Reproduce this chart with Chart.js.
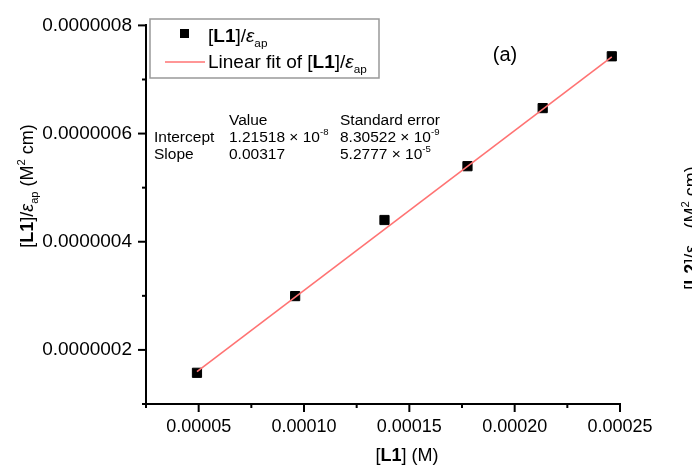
<!DOCTYPE html>
<html>
<head>
<meta charset="utf-8">
<script src="https://cdn.jsdelivr.net/npm/chart.js@4.4.0/dist/chart.umd.min.js"></script>
<style>
  html, body { margin: 0; padding: 0; background: #fff; }
  canvas { display: block; }
</style>
</head>
<body>
<canvas id="fitChart" width="692" height="466"></canvas>
<script>
// [L1] concentration (M) and [L1]/eps_ap (M^2 cm)
var concL1 = [4.92e-5, 9.58e-5, 1.382e-4, 1.776e-4, 2.133e-4, 2.461e-4];
var ratioL1 = [1.577e-7, 2.995e-7, 4.402e-7, 5.397e-7, 6.471e-7, 7.429e-7];

// linear fit, drawn between first and last point
var fitX = [4.92e-5, 2.461e-4];
var fitY = [1.60e-7, 7.42e-7];

// axis ticks (minor ticks get an empty label)
var xTickVals = [2.5e-5, 5e-5, 7.5e-5, 1e-4, 1.25e-4, 1.5e-4, 1.75e-4, 2e-4, 2.25e-4, 2.5e-4];
var xTickLabels = ['', '0.00005', '', '0.00010', '', '0.00015', '', '0.00020', '', '0.00025'];
var yTickVals = [1e-7, 2e-7, 3e-7, 4e-7, 5e-7, 6e-7, 7e-7, 8e-7];
var yTickLabels = ['', '0.0000002', '', '0.0000004', '', '0.0000006', '', '0.0000008'];

// fit results table
var fitRows = ['Intercept', 'Slope'];
var fitValues = [['1.21518 × 10', '-8'], ['0.00317', '']];
var fitErrors = [['8.30522 × 10', '-9'], ['5.2777 × 10', '-5']];

var FONT = '"Liberation Sans", Arial, Helvetica, sans-serif';
var fitColor = '#ff7373';

function partFont(st, size) {
  var sz = (st.indexOf('_') >= 0 || st.indexOf('^') >= 0) ? size * 0.62 : size;
  return (st.indexOf('i') >= 0 ? 'italic ' : '') + (st.indexOf('b') >= 0 ? 'bold ' : '') + sz + 'px ' + FONT;
}
function richWidth(ctx, parts, size) {
  var w = 0;
  parts.forEach(function (p) { ctx.font = partFont(p[1], size); w += ctx.measureText(p[0]).width; });
  return w;
}
function drawRich(ctx, parts, x, y, size) {
  ctx.textAlign = 'left';
  ctx.textBaseline = 'alphabetic';
  parts.forEach(function (p) {
    var dy = 0;
    if (p[1].indexOf('_') >= 0) dy = size * 0.28;
    if (p[1].indexOf('^') >= 0) dy = -size * 0.45;
    ctx.font = partFont(p[1], size);
    ctx.fillText(p[0], x, y + dy);
    x += ctx.measureText(p[0]).width;
  });
}

var yTitle = [['[', ''], ['L1', 'b'], [']/', ''], ['ε', 'i'], ['ap', '_'], [' (M', ''], ['2', '^'], [' cm)', '']];
var y2Title = [['[', ''], ['L2', 'b'], [']/', ''], ['ε', 'i'], ['ap', '_'], [' (M', ''], ['2', '^'], [' cm)', '']];
var xTitle = [['[', ''], ['L1', 'b'], ['] (M)', '']];
var legPoint = [['[', ''], ['L1', 'b'], [']/', ''], ['ε', 'i'], ['ap', '_']];
var legFit = [['Linear fit of [', ''], ['L1', 'b'], [']/', ''], ['ε', 'i'], ['ap', '_']];

var decorations = {
  id: 'decorations',
  afterDraw: function (chart) {
    var ctx = chart.ctx;
    var xs = chart.scales.x, ys = chart.scales.y;
    var area = chart.chartArea;
    ctx.save();
    ctx.fillStyle = '#000';
    ctx.strokeStyle = '#000';
    ctx.lineWidth = 2;

    // tick marks, outward
    xs.ticks.forEach(function (t, i) {
      var px = xs.getPixelForValue(t.value);
      var len = xTickLabels[i] ? 8 : 4;
      ctx.beginPath(); ctx.moveTo(px, area.bottom); ctx.lineTo(px, area.bottom + len); ctx.stroke();
    });
    ys.ticks.forEach(function (t, i) {
      var py = ys.getPixelForValue(t.value);
      var len = yTickLabels[i] ? 8 : 4;
      ctx.beginPath(); ctx.moveTo(area.left, py); ctx.lineTo(area.left - len, py); ctx.stroke();
    });

    // axis titles
    var w = richWidth(ctx, xTitle, 18);
    drawRich(ctx, xTitle, 407 - w / 2, 461, 18);

    ctx.save();
    ctx.translate(33, 186);
    ctx.rotate(-Math.PI / 2);
    w = richWidth(ctx, yTitle, 18);
    drawRich(ctx, yTitle, -w / 2, 0, 18);
    ctx.restore();

    // title of the neighbouring panel, cut by the edge
    ctx.save();
    ctx.translate(697, 228);
    ctx.rotate(-Math.PI / 2);
    w = richWidth(ctx, y2Title, 18);
    drawRich(ctx, y2Title, -w / 2, 0, 18);
    ctx.restore();

    // panel letter
    ctx.font = '20px ' + FONT;
    ctx.textAlign = 'center';
    ctx.fillText('(a)', 505, 61);

    // fit table
    var sz = 15.5;
    drawRich(ctx, [['Value', '']], 229, 125, sz);
    drawRich(ctx, [['Standard error', '']], 340, 125, sz);
    fitRows.forEach(function (r, i) {
      var y = 142 + i * 17;
      drawRich(ctx, [[r, '']], 154, y, sz);
      drawRich(ctx, [[fitValues[i][0], ''], [fitValues[i][1], '^']], 229, y, sz);
      drawRich(ctx, [[fitErrors[i][0], ''], [fitErrors[i][1], '^']], 340, y, sz);
    });

    // legend box
    ctx.fillStyle = '#fff';
    ctx.fillRect(150, 19, 229, 59);
    ctx.strokeStyle = '#999';
    ctx.lineWidth = 1.5;
    ctx.strokeRect(150, 19, 229, 59);
    ctx.fillStyle = '#000';
    ctx.fillRect(180, 29, 9, 9);
    ctx.strokeStyle = fitColor;
    ctx.lineWidth = 1.5;
    ctx.beginPath(); ctx.moveTo(165, 62); ctx.lineTo(205, 62); ctx.stroke();
    ctx.fillStyle = '#000';
    drawRich(ctx, legPoint, 208, 42, 19);
    drawRich(ctx, legFit, 208, 68, 19);

    ctx.restore();
  }
};

var ctx = document.getElementById('fitChart').getContext('2d');
var chart = new Chart(ctx, {
  type: 'scatter',
  data: {
    datasets: [{
      label: 'Linear fit',
      data: fitX.map(function (x, i) { return { x: x, y: fitY[i] }; }),
      showLine: true,
      borderColor: fitColor,
      borderWidth: 1.6,
      pointRadius: 0,
      fill: false
    }, {
      label: '[L1]/eps_ap',
      data: concL1.map(function (x, i) { return { x: x, y: ratioL1[i] }; }),
      pointStyle: 'rect',
      pointRadius: 6.5,
      backgroundColor: '#000',
      borderColor: '#000',
      borderWidth: 1
    }]
  },
  options: {
    responsive: false,
    devicePixelRatio: 1,
    animation: false,
    layout: { padding: { top: 24, right: 72, left: 0, bottom: 0 } },
    plugins: { legend: { display: false }, tooltip: { enabled: false } },
    scales: {
      x: {
        type: 'linear',
        min: 2.5e-5,
        max: 2.5e-4,
        afterBuildTicks: function (scale) { scale.ticks = xTickVals.map(function (v) { return { value: v }; }); },
        afterFit: function (scale) { scale.height = 62; },
        grid: { display: false, drawTicks: false },
        border: { display: true, color: '#000', width: 2 },
        ticks: {
          autoSkip: false,
          maxRotation: 0,
          padding: 12,
          color: '#000',
          font: { family: FONT, size: 18 },
          callback: function (v, i) { return xTickLabels[i]; }
        }
      },
      y: {
        type: 'linear',
        min: 1e-7,
        max: 8e-7,
        afterBuildTicks: function (scale) { scale.ticks = yTickVals.map(function (v) { return { value: v }; }); },
        afterFit: function (scale) { scale.width = 146; },
        grid: { display: false, drawTicks: false },
        border: { display: true, color: '#000', width: 2 },
        ticks: {
          autoSkip: false,
          padding: 14,
          color: '#000',
          font: { family: FONT, size: 19 },
          callback: function (v, i) { return yTickLabels[i]; }
        }
      }
    }
  },
  plugins: [decorations]
});
</script>
</body>
</html>
